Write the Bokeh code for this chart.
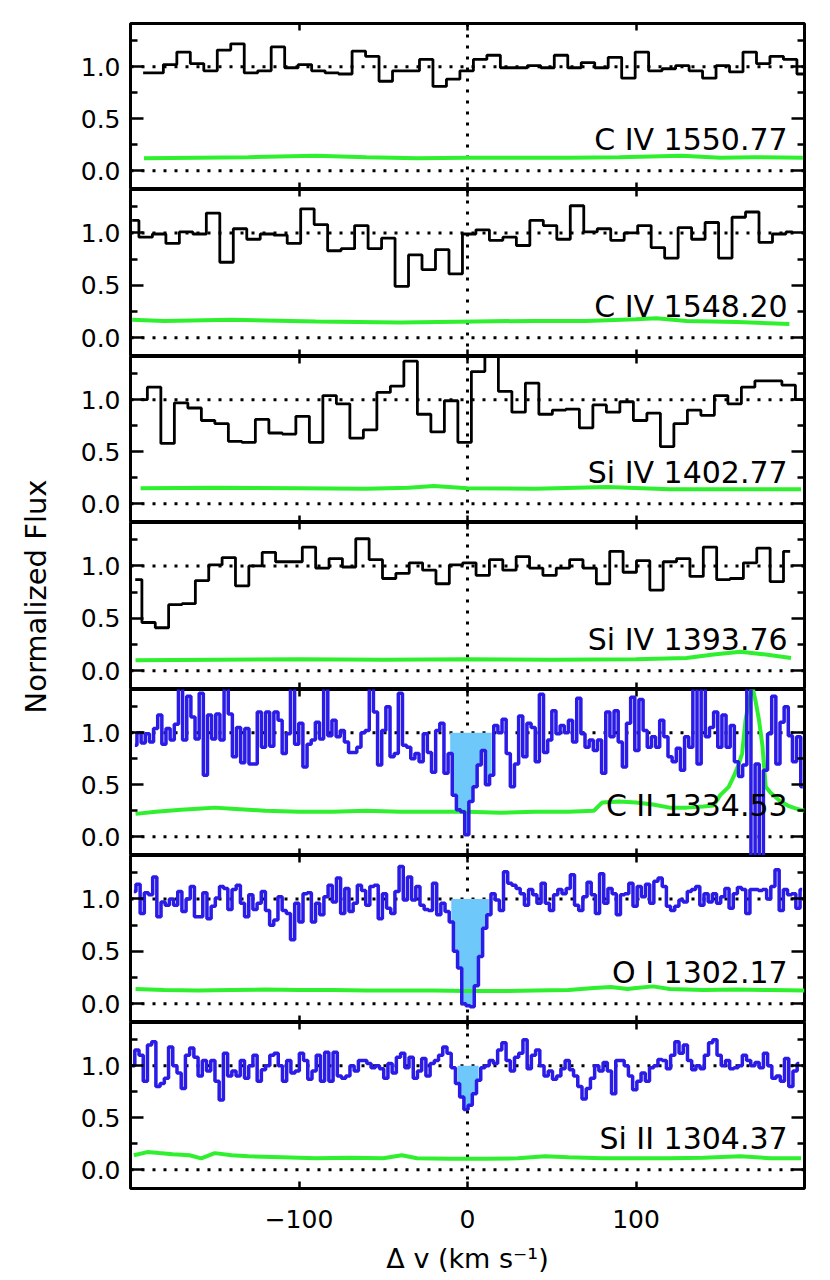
import numpy as np
from bokeh.plotting import figure
from bokeh.models import (Range1d, FixedTicker, LinearAxis, Span, Label,
                          NumeralTickFormatter, CustomLabelingPolicy, AllLabels)
from bokeh.layouts import column, row
from bokeh.embed import file_html
from bokeh.resources import INLINE

# ---------------- data ----------------
LABELS = ["C IV 1550.77", "C IV 1548.20", "Si IV 1402.77", "Si IV 1393.76",
          "C II 1334.53", "O I 1302.17", "Si II 1304.37"]
Y_TITLE = "Normalized Flux"
X_TITLE = "\u0394 v (km s\u207b\u00b9)"

# C IV 1550.77 (coarse bins): first / last bin centre (km/s) and normalised flux
C4A_VRANGE = (-192.5, 199.5)
C4A_FLUX = [0.94, 0.94, 1.02, 1.14, 1.03, 0.96, 1.16, 1.22, 0.94, 0.96,
            1.19, 0.99, 1.02, 0.96, 0.94, 0.93, 1.15, 1.10, 0.86, 0.96,
            0.96, 1.07, 0.81, 0.88, 0.96, 1.07, 1.11, 0.99, 0.99, 1.01,
            0.99, 1.11, 0.99, 1.04, 0.99, 1.09, 0.89, 1.14, 0.96, 0.98,
            1.01, 0.96, 0.89, 1.01, 0.95, 1.14, 1.03, 1.10, 1.07, 0.93]
C4A_ERR_V = [-192, -160, -130, -90, -60, -30, 0, 30, 60, 90, 127, 150, 170, 199]
C4A_ERR = [0.12, 0.125, 0.13, 0.145, 0.13, 0.12, 0.125, 0.125, 0.125, 0.13, 0.145, 0.125, 0.13, 0.125]

# C IV 1548.20
C4B_VRANGE = (-199.0, 193.0)
C4B_FLUX = [1.12, 0.96, 0.99, 0.90, 1.01, 0.99, 1.19, 0.72, 1.04, 0.94,
            0.99, 0.98, 0.90, 1.23, 1.08, 0.83, 0.85, 1.07, 0.85, 0.95,
            0.49, 0.79, 0.65, 0.84, 0.61, 0.99, 1.03, 0.93, 0.96, 0.88,
            1.12, 1.07, 0.94, 1.26, 1.01, 1.04, 0.93, 1.00, 1.07, 0.86,
            0.76, 1.05, 0.94, 1.10, 0.76, 1.15, 1.20, 0.91, 0.99, 1.01]
C4B_ERR_V = [-199, -180, -140, -90, -40, 5, 40, 70, 100, 112, 130, 160, 191]
C4B_ERR = [0.17, 0.16, 0.17, 0.155, 0.145, 0.155, 0.16, 0.16, 0.175, 0.185, 0.16, 0.15, 0.13]

# Si IV 1402.77
S4A_VRANGE = (-194.0, 198.6)
S4A_FLUX = [1.00, 1.12, 0.58, 0.97, 0.92, 0.80, 0.77, 0.60, 0.59, 0.81,
            0.68, 0.67, 0.84, 0.59, 1.04, 0.96, 0.63, 0.71, 1.07, 1.13,
            1.37, 0.86, 0.69, 0.99, 0.59, 1.27, 1.45, 1.08, 0.88, 1.16,
            0.86, 0.90, 0.91, 0.73, 0.95, 0.88, 0.98, 0.80, 0.87, 0.55,
            0.77, 0.90, 0.85, 1.04, 0.96, 1.12, 1.18, 1.18, 1.14, 1.00]
S4A_ERR_V = [-194, -150, -100, -60, -35, -20, 0, 40, 83, 120, 160, 198]
S4A_ERR = [0.15, 0.155, 0.15, 0.145, 0.155, 0.17, 0.15, 0.145, 0.16, 0.14, 0.14, 0.14]

# Si IV 1393.76
S4B_VRANGE = (-197.2, 191.5)
S4B_FLUX = [0.87, 0.46, 0.41, 0.63, 0.64, 0.86, 1.01, 1.08, 0.81, 1.00,
            1.13, 1.04, 1.04, 1.18, 0.98, 1.07, 0.99, 1.26, 1.06, 0.88,
            0.93, 1.03, 0.96, 0.83, 1.01, 1.03, 0.91, 1.06, 0.96, 1.09,
            0.98, 0.91, 0.98, 1.06, 0.98, 0.83, 1.14, 0.94, 1.05, 0.77,
            1.04, 1.07, 0.90, 1.18, 0.87, 0.88, 1.03, 1.17, 0.85, 1.14]
S4B_ERR_V = [-197, -150, -100, -50, 0, 50, 100, 130, 146, 162, 174, 192]
S4B_ERR = [0.10, 0.105, 0.11, 0.105, 0.11, 0.105, 0.11, 0.12, 0.155, 0.18, 0.16, 0.12]

# C II 1334.53 (fine bins)
C2_VRANGE = (-197.4, 199.0)
C2_FLUX = [0.88, 1.00, 0.90, 0.99, 0.91, 1.04, 1.17, 0.89, 1.04, 0.93,
           1.08, 1.45, 0.93, 1.35, 1.15, 0.94, 1.38, 0.59, 1.17, 0.94,
           1.18, 0.93, 1.45, 1.18, 0.77, 1.05, 0.71, 1.04, 0.70, 0.70,
           1.20, 0.86, 1.20, 0.87, 1.20, 1.12, 0.80, 0.99, 1.45, 0.89,
           1.09, 0.67, 0.89, 0.93, 1.10, 0.94, 1.45, 0.97, 1.12, 0.96,
           1.02, 0.91, 0.81, 0.81, 0.86, 1.00, 1.02, 1.45, 1.20, 0.69,
           1.02, 1.25, 0.77, 0.80, 1.38, 0.88, 0.86, 0.75, 0.80, 0.72,
           0.99, 0.81, 0.62, 1.02, 1.09, 0.61, 0.80, 0.40, 0.26, 0.24,
           0.02, 0.34, 0.48, 0.69, 0.83, 0.50, 0.59, 1.07, 1.00, 1.13,
           0.80, 0.48, 0.70, 1.16, 0.77, 1.09, 1.05, 0.72, 1.37, 0.81,
           0.93, 1.21, 0.99, 1.07, 1.00, 1.12, 0.91, 1.33, 0.99, 0.86,
           0.93, 0.83, 0.93, 0.61, 1.20, 0.96, 1.21, 0.91, 0.67, 1.09,
           1.34, 0.83, 1.32, 1.02, 0.86, 0.96, 0.86, 1.12, 0.96, 0.77,
           0.72, 0.85, 0.64, 0.96, 0.86, 1.45, 0.70, 1.45, 0.96, 1.05,
           1.20, 0.86, 1.17, 0.86, 1.07, 0.72, 0.58, 0.69, 1.45, -0.40,
           0.70, -0.40, 0.64, 0.99, 1.35, 0.70, 1.10, 1.25, 0.97, 0.72,
           0.96, 0.48]
C2_ERR_V = [-197, -185, -170, -160, -150, -140, -130, -120, -100, -80, -60, -40, -20, 0,
            20, 40, 60, 75, 80, 90, 100, 110, 120, 130, 140, 146, 150, 155, 158, 161,
            163, 165, 167, 169, 171, 173, 175, 177, 180, 185, 190, 195, 200]
C2_ERR = [0.22, 0.24, 0.26, 0.27, 0.28, 0.27, 0.26, 0.25, 0.24, 0.24, 0.25, 0.24, 0.24, 0.24,
          0.23, 0.24, 0.24, 0.25, 0.33, 0.34, 0.33, 0.31, 0.28, 0.28, 0.29, 0.30, 0.40, 0.48,
          0.58, 0.70, 0.80, 1.12, 1.30, 1.45, 1.30, 1.12, 0.88, 0.48, 0.42, 0.35, 0.30, 0.27, 0.25]
C2_FILL = (-10.5, 14.5)

# O I 1302.17
O1_VRANGE = (-198.0, 198.6)
O1_FLUX = [1.07, 1.14, 0.86, 1.06, 1.04, 1.21, 0.83, 0.97, 0.94, 1.00,
           0.94, 1.07, 0.88, 1.00, 1.12, 0.83, 0.83, 1.06, 0.81, 0.93,
           1.01, 1.12, 1.10, 0.90, 1.09, 1.13, 0.96, 0.83, 1.04, 0.90,
           0.96, 1.07, 0.89, 0.75, 0.80, 1.02, 0.89, 0.86, 0.61, 0.96,
           0.78, 1.05, 1.06, 0.78, 0.96, 0.85, 1.02, 1.13, 0.97, 1.20,
           0.86, 1.10, 0.88, 0.96, 1.13, 1.08, 0.94, 1.12, 1.13, 0.81,
           1.05, 0.91, 0.86, 1.07, 1.31, 0.99, 1.21, 0.99, 1.12, 0.94,
           0.90, 0.89, 1.15, 0.85, 0.96, 0.88, 0.78, 0.50, 0.34, 0.00,
           -0.02, -0.03, 0.17, 0.45, 0.72, 0.85, 1.05, 0.99, 0.89, 1.26,
           1.15, 1.13, 1.10, 1.05, 0.94, 1.09, 1.04, 0.96, 1.15, 0.96,
           0.89, 1.04, 1.09, 1.05, 1.10, 1.23, 0.94, 0.89, 1.02, 1.16,
           1.04, 0.86, 1.24, 0.96, 1.10, 1.05, 0.85, 1.04, 1.05, 1.15,
           0.93, 1.12, 1.02, 1.14, 0.96, 1.17, 1.20, 1.12, 0.93, 0.89,
           0.93, 0.99, 0.97, 1.07, 1.09, 1.12, 0.94, 1.05, 0.97, 1.05,
           0.96, 1.02, 1.10, 0.91, 1.05, 1.11, 1.09, 0.86, 1.09, 1.09,
           1.08, 1.09, 1.00, 1.12, 1.28, 0.89, 1.09, 1.04, 1.05, 0.91,
           1.09]
O1_ERR_V = [-197, -180, -160, -140, -120, -100, -80, -60, -40, -20, 0, 20, 40, 60,
            75, 85, 95, 100, 110, 120, 140, 160, 180, 200]
O1_ERR = [0.14, 0.13, 0.125, 0.13, 0.135, 0.13, 0.13, 0.125, 0.125, 0.125, 0.12, 0.12,
          0.125, 0.13, 0.15, 0.16, 0.14, 0.15, 0.165, 0.14, 0.13, 0.135, 0.13, 0.125]
O1_FILL = (-11.0, 14.5)

# Si II 1304.37
S2_VRANGE = (-198.7, 196.9)
S2_FLUX = [1.00, 1.15, 1.10, 0.85, 1.20, 1.23, 0.80, 0.83, 0.88, 1.18,
           1.00, 0.93, 0.78, 1.10, 1.17, 1.08, 0.90, 1.05, 0.95, 1.05,
           0.85, 0.67, 1.12, 0.90, 0.95, 0.90, 1.05, 0.88, 1.00, 1.10,
           0.85, 0.96, 1.00, 1.10, 1.12, 1.00, 0.85, 1.05, 0.93, 0.95,
           1.12, 1.05, 0.87, 0.95, 1.10, 0.85, 1.13, 0.85, 1.13, 0.90,
           0.88, 0.90, 1.00, 0.95, 1.05, 1.05, 1.02, 0.98, 1.00, 0.97,
           0.88, 1.02, 0.93, 1.08, 1.12, 0.98, 1.08, 0.88, 0.95, 1.07,
           0.90, 1.02, 1.05, 1.10, 1.18, 1.12, 0.98, 0.83, 0.70, 0.58,
           0.62, 0.73, 0.86, 0.98, 1.00, 1.05, 1.02, 1.15, 1.22, 1.05,
           0.95, 1.08, 1.12, 1.25, 0.97, 1.10, 1.15, 1.00, 0.90, 0.95,
           0.87, 0.90, 0.97, 1.05, 0.96, 0.90, 0.80, 0.68, 0.78, 0.88,
           1.00, 0.95, 1.03, 0.95, 0.73, 1.05, 1.05, 1.00, 0.90, 0.77,
           0.85, 0.93, 0.85, 0.98, 1.00, 1.06, 1.05, 0.97, 1.10, 1.23,
           1.12, 1.20, 1.05, 0.96, 1.00, 0.97, 1.10, 1.22, 1.25, 1.10,
           1.00, 1.05, 0.97, 0.98, 1.00, 1.10, 1.05, 1.00, 1.03, 0.98,
           1.12, 1.00, 0.88, 0.90, 0.85, 1.07, 0.80, 0.95, 1.02]
S2_ERR_V = [-198, -190, -183, -175, -165, -158, -150, -140, -130, -110, -90, -70, -50,
            -39, -30, -10, 10, 30, 46, 60, 80, 100, 120, 140, 162, 180, 198]
S2_ERR = [0.14, 0.17, 0.16, 0.15, 0.14, 0.11, 0.16, 0.14, 0.13, 0.12, 0.11, 0.115, 0.11,
          0.14, 0.11, 0.105, 0.105, 0.11, 0.13, 0.12, 0.11, 0.11, 0.11, 0.115, 0.13, 0.11, 0.11]
S2_FILL = (-8.0, 9.0)

X_TICKS = [-100, 0, 100]
X_TICK_TEXT = {-100: "\u2212100", 0: "0", 100: "100"}
Y_TICKS = [0.0, 0.5, 1.0]
Y_MINOR = [0.25, 0.75, 1.25]

# ---------------- style ----------------
BLACK = "black"
BLUE = "#2a1be6"
FILLC = "#6ec8fa"
GREEN = "#2ef02e"
FONT = "DejaVu Sans"

PANELS = [
    (LABELS[0], C4A_VRANGE, C4A_FLUX, C4A_ERR_V, C4A_ERR, BLACK, None),
    (LABELS[1], C4B_VRANGE, C4B_FLUX, C4B_ERR_V, C4B_ERR, BLACK, None),
    (LABELS[2], S4A_VRANGE, S4A_FLUX, S4A_ERR_V, S4A_ERR, BLACK, None),
    (LABELS[3], S4B_VRANGE, S4B_FLUX, S4B_ERR_V, S4B_ERR, BLACK, None),
    (LABELS[4], C2_VRANGE, C2_FLUX, C2_ERR_V, C2_ERR, BLUE, C2_FILL),
    (LABELS[5], O1_VRANGE, O1_FLUX, O1_ERR_V, O1_ERR, BLUE, O1_FILL),
    (LABELS[6], S2_VRANGE, S2_FLUX, S2_ERR_V, S2_ERR, BLUE, S2_FILL),
]

TITLE_W = 60
FRAME_W = 674
FRAME_H = [166, 167, 166, 167, 166, 167, 166]
LEFT, RIGHT, TOP, BOTTOM = 70, 10, 23, 90
TOTAL_H = TOP + sum(FRAME_H) + BOTTOM

HIDE_LABELS = CustomLabelingPolicy(code="""
const all = Array.from(indices.ones());
for (const i of all) { indices.unset(i); }
return indices;
""")

xr = Range1d(-200, 200)
figs = []
n_pan = len(PANELS)
for i, (lab, vrange, flux, ev, ee, col, fill) in enumerate(PANELS):
    top = TOP if i == 0 else 0
    bot = BOTTOM if i == n_pan - 1 else 0
    p = figure(width=LEFT + FRAME_W + RIGHT, height=FRAME_H[i] + top + bot,
               x_range=xr, y_range=Range1d(-0.18, 1.415),
               output_backend="svg", toolbar_location=None,
               min_border_left=LEFT, min_border_right=RIGHT,
               min_border_top=top, min_border_bottom=bot)
    p.add_layout(LinearAxis(), "above")
    p.add_layout(LinearAxis(), "right")
    p.xgrid.visible = False
    p.ygrid.visible = False
    p.outline_line_color = "black"
    p.outline_line_width = 3
    p.outline_line_alpha = 1.0
    p.background_fill_color = "white"
    p.border_fill_color = "white"

    for ax in p.xaxis:
        ax.ticker = FixedTicker(ticks=X_TICKS, minor_ticks=[])
        ax.axis_line_color = None
        ax.major_tick_in = 7
        ax.major_tick_out = 0
        ax.minor_tick_in = 0
        ax.minor_tick_out = 0
        ax.major_tick_line_width = 2.5
        ax.major_label_text_font_size = "0px"
        ax.major_label_standoff = 0
        ax.major_label_policy = HIDE_LABELS
    for ax in p.yaxis:
        ax.ticker = FixedTicker(ticks=Y_TICKS, minor_ticks=Y_MINOR)
        ax.axis_line_color = None
        ax.major_tick_in = 13
        ax.major_tick_out = 0
        ax.minor_tick_in = 7
        ax.minor_tick_out = 0
        ax.major_tick_line_width = 2.5
        ax.minor_tick_line_width = 2.5
        ax.major_label_text_font_size = "0px"
        ax.major_label_standoff = 0
        ax.major_label_policy = HIDE_LABELS

    yl = p.left[0]
    yl.major_label_policy = AllLabels()
    yl.formatter = NumeralTickFormatter(format="0.0")
    yl.major_label_text_font_size = "25px"
    yl.major_label_text_font = FONT
    yl.major_label_text_color = "black"
    yl.major_label_standoff = 10

    if i == n_pan - 1:
        xb = p.below[0]
        xb.major_label_policy = AllLabels()
        xb.major_label_text_font_size = "25px"
        xb.major_label_text_font = FONT
        xb.major_label_text_color = "black"
        xb.major_label_standoff = 21
        xb.major_label_overrides = X_TICK_TEXT
        xb.axis_label = X_TITLE
        xb.axis_label_text_font = FONT
        xb.axis_label_text_font_size = "27px"
        xb.axis_label_text_font_style = "normal"
        xb.axis_label_text_color = "black"
        xb.axis_label_standoff = 12

    # reference lines (dotted)
    for loc in (0.0, 1.0):
        p.add_layout(Span(location=loc, dimension="width", line_color="black",
                          line_width=3, line_dash="3 8", level="underlay"))
    p.add_layout(Span(location=0, dimension="height", line_color="black",
                      line_width=3, line_dash="3 8", level="underlay"))

    flux = np.array(flux, dtype=float)
    vel = np.linspace(vrange[0], vrange[1], len(flux))

    if fill is not None:
        m = (vel >= fill[0]) & (vel <= fill[1])
        p.varea_step(x=vel[m], y1=flux[m], y2=np.ones(m.sum()), step_mode="center",
                     fill_color=FILLC, fill_alpha=1.0)

    p.line(ev, ee, line_color=GREEN, line_width=4)
    p.step(vel, flux, mode="center", line_color=col,
           line_width=3.5 if col == BLUE else 2.8)

    p.add_layout(Label(x=190, y=0.30, text=lab, text_align="right",
                       text_baseline="alphabetic", text_font=FONT,
                       text_font_size="30px", text_color="black"))
    figs.append(p)

# y-axis title spanning all panels
tf = figure(width=TITLE_W, height=TOTAL_H, x_range=Range1d(0, TITLE_W),
            y_range=Range1d(0, TOTAL_H), output_backend="svg", toolbar_location=None,
            x_axis_location=None, y_axis_location=None,
            min_border_left=0, min_border_right=0, min_border_top=0, min_border_bottom=0)
tf.outline_line_color = None
tf.xgrid.visible = False
tf.ygrid.visible = False
tf.add_layout(Label(x=35, y=TOTAL_H - 596, text=Y_TITLE, angle=np.pi / 2,
                    text_align="center", text_baseline="middle", text_font=FONT,
                    text_font_size="29px", text_color="black"))

layout = row(tf, column(*figs, spacing=0), spacing=0)
open("out.html", "w").write(file_html(layout, INLINE))
